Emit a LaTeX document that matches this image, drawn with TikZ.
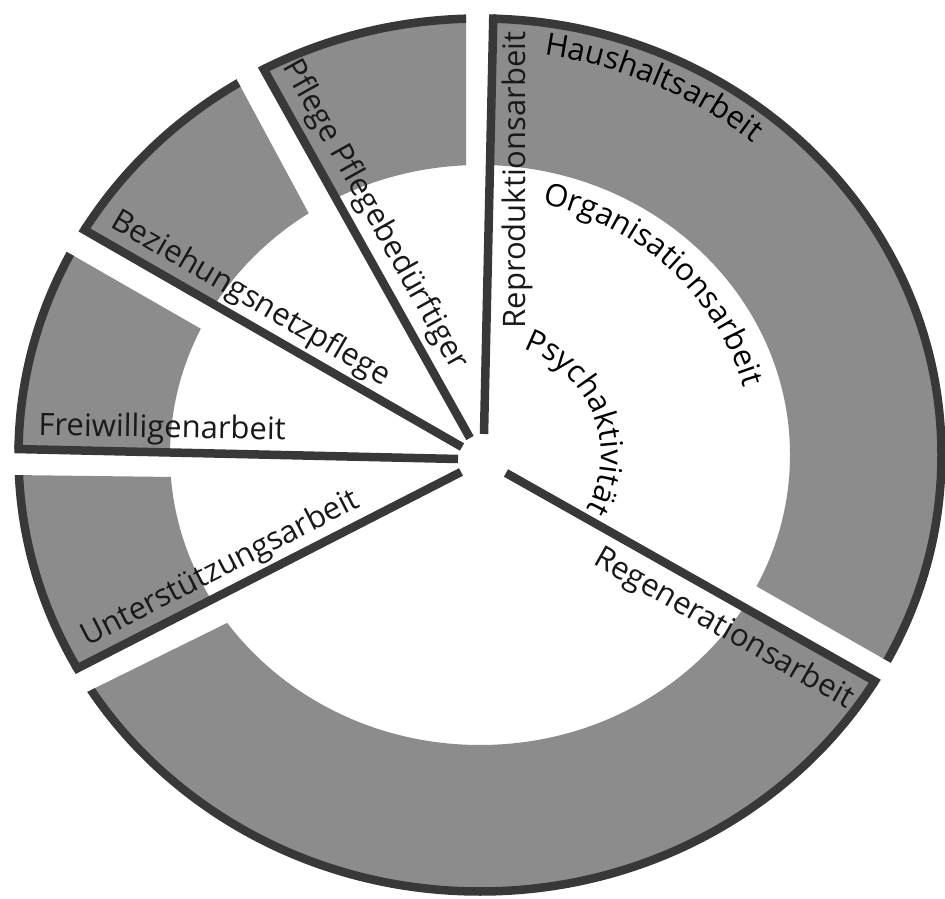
\documentclass[tikz,border=0pt]{standalone}
\usepackage{fontspec}
\usetikzlibrary{calc,decorations.text}
\newfontfamily\lblfont{Open Sans}
\newcommand\lblsize{\lblfont\fontsize{31}{37}\selectfont}
\definecolor{ringgrey}{gray}{0.55}
\definecolor{rimgrey}{gray}{0.22}
\tikzset{
  ring/.style={fill=ringgrey, even odd rule},
  rim/.style={draw=rimgrey, line width=8.5pt},
  lbl/.style={font=\lblsize, text=black!90, inner sep=0pt, anchor=base},
  arclbl/.style={decorate, decoration={text along path, text align=center, text={|\lblsize|#1}}}
}
\begin{document}
\begin{tikzpicture}[x=1pt, y=1pt]
  \useasboundingbox (0,0) rectangle (945,898);
  \fill[white] (0,0) rectangle (945,898);
  \coordinate (G) at (480,443);
  % thick edges (inner end, outer point) and the edge facing each one
  \coordinate (a0) at (484,464);  \coordinate (a1) at (493,868);
  \coordinate (na0) at (466,735); \coordinate (na1) at (466,886);
  \coordinate (b0) at (470,460);  \coordinate (b1) at (263,830);
  \coordinate (nb0) at (308,686); \coordinate (nb1) at (238,816);
  \coordinate (c0) at (462,451);  \coordinate (c1) at (88,666);
  \coordinate (nc0) at (203,568); \coordinate (nc1) at (67,646);
  \coordinate (d0) at (458,439);  \coordinate (d1) at (15,449);
  \coordinate (nd0) at (173,421); \coordinate (nd1) at (12,423);
  \coordinate (e0) at (461,426);  \coordinate (e1) at (78,230);
  \coordinate (ne0) at (227,275); \coordinate (ne1) at (87,206);
  \coordinate (f0) at (506,425);  \coordinate (f1) at (878,215);
  \coordinate (nf0) at (763,308); \coordinate (nf1) at (898,231);
  % sectors
  \foreach \s/\e/\m in {a/nf/30, b/na/105, c/nb/135, d/nc/165, e/nd/193, f/ne/270} {
    \begin{scope}
      \clip (\s0) -- ($(\s0)!2!(\s1)$) -- ($(G)+(\m:900)$) -- ($(\e0)!4!(\e1)$) -- ($(\e0)!-1!(\e1)$) -- cycle;
      \fill[ring] (G) ellipse[x radius=461.5, y radius=436.5] (G) ellipse[x radius=310, y radius=290];
      \draw[rim] (G) ellipse[x radius=461.5, y radius=436.5];
    \end{scope}
    \begin{scope}
      \clip (G) ellipse[x radius=465.75, y radius=440.75];
      \draw[rim] (\s0) -- ($(\s0)!2!(\s1)$);
    \end{scope}
  }
  % labels
  \node[lbl, rotate=90] (repro) at (525,718) {Reproduktionsarbeit};
  \node[lbl, rotate=-60.8] (pflege) at (367.2,678.7) {Pflege Pflegebedürftiger};
  \node[lbl, rotate=-30.2] (bez) at (246.5,591.9) {Beziehungsnetzpflege};
  \node[lbl, rotate=-1] (frei) at (162,460.5) {Freiwilligenarbeit};
  \node[lbl, rotate=27.1] (unter) at (224.2,321.6) {Unterstützungsarbeit};
  \node[lbl, rotate=-29.7] (regen) at (719.5,261.8) {Regenerationsarbeit};
  \path[arclbl=Haushaltsarbeit] ($(G)+(105:428 and 405)$) arc[start angle=105, end angle=26, x radius=428, y radius=405];
  \path[arclbl=Organisationsarbeit] ($(G)+(95:273 and 258)$) arc[start angle=95, end angle=-4, x radius=273, y radius=258];
  \path[arclbl=Psychaktivität] ($(G)+(95:121 and 114)$) arc[start angle=95, end angle=-55, x radius=121, y radius=114];
\end{tikzpicture}
\end{document}
